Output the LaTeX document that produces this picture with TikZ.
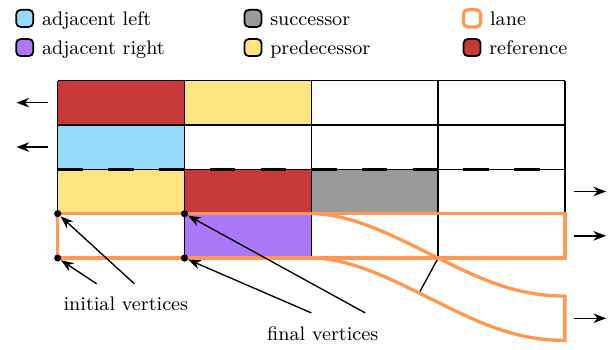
\documentclass[tikz,border=0pt]{standalone}
\usetikzlibrary{positioning,arrows.meta}

\begin{document}
\begin{tikzpicture}[
    font=\fontsize{8.8}{10.5}\selectfont,
    >=Stealth,
    legbox/.style={draw=black, thick, rounded corners=2pt, minimum size=0.27cm, inner sep=0pt},
    legtext/.style={text height=2ex, text depth=.5ex},
    vertex/.style={circle, fill=black, inner sep=0pt, minimum size=3.2pt},
    flow/.style={->, semithick},
    pointer/.style={->, semithick},
    lanecol/.style={draw=lane, line width=1.5pt}
]

% Cell colours
\definecolor{adjleft}{RGB}{150, 218, 252}
\definecolor{adjright}{RGB}{172, 120, 250}
\definecolor{succ}{RGB}{153, 153, 153}
\definecolor{pred}{RGB}{255, 228, 130}
\definecolor{refcell}{RGB}{199, 56, 56}
\definecolor{lane}{RGB}{255, 153, 85}

% Cell dimensions
\def\cellw{2cm}
\def\cellh{0.7cm}

\useasboundingbox (-0.91, -1.45) rectangle (8.79, 4.07);

% Legend
\node[legbox, fill=adjleft] (legleft) at (-0.52, 3.78) {};
\node[legtext, right=0pt of legleft] (txtleft) {adjacent left};
\node[legbox, fill=adjright] (legright) at (-0.52, 3.32) {};
\node[legtext, right=0pt of legright] (txtright) {adjacent right};
\node[legbox, fill=succ] (legsucc) at (3.08, 3.78) {};
\node[legtext, right=0pt of legsucc] (txtsucc) {successor};
\node[legbox, fill=pred] (legpred) at (3.08, 3.32) {};
\node[legtext, right=0pt of legpred] (txtpred) {predecessor};
\node[legbox, draw=lane, line width=1.5pt, fill=white] (leglane) at (6.535, 3.78) {};
\node[legtext, right=0pt of leglane] (txtlane) {lane};
\node[legbox, fill=refcell] (legref) at (6.535, 3.32) {};
\node[legtext, right=0pt of legref] (txtref) {reference};

% Top row
\fill[refcell] (0, 2.1) rectangle +(\cellw, \cellh);
\fill[pred] (2, 2.1) rectangle +(\cellw, \cellh);

% Second row
\fill[adjleft] (0, 1.4) rectangle +(\cellw, \cellh);

% Third row
\fill[pred] (0, 0.7) rectangle +(\cellw, \cellh);
\fill[refcell] (2, 0.7) rectangle +(\cellw, \cellh);
\fill[succ] (4, 0.7) rectangle +(\cellw, \cellh);

% Lane row
\fill[adjright] (2, 0) rectangle +(\cellw, \cellh);

% Grid lines
\foreach \y in {0, 0.7, 1.4, 2.1, 2.8} {
    \draw[semithick] (0, \y) -- (8, \y);
}
\foreach \x in {0, 2, 4, 6, 8} {
    \draw[semithick] (\x, 0) -- (\x, 2.8);
}

% Lane marking
\draw[line width=1.5pt, dash pattern=on 0.4cm off 0.4cm] (0, 1.4) -- (8, 1.4);

% Segment border of the merging lane
\coordinate (mergetop) at (6, 0);
\coordinate (mergebot) at (5.70, -0.553);
\draw[semithick] (mergetop) -- (mergebot);

% Lanes
\draw[lanecol] (0, 0) rectangle (8, 0.7);
\draw[lanecol] (4, 0.7) .. controls (4.65, 0.7) and (5.35, 0.32) .. (6, 0)
    .. controls (6.6, -0.295) and (7.2, -0.6) .. (8, -0.6) -- (8, -1.3)
    .. controls (7.2, -1.3) and (6.6, -0.995) .. (6, -0.7)
    .. controls (5.35, -0.38) and (4.65, 0) .. (4, 0);

% Vertices
\node[vertex] (ini0) at (0, 0) {};
\node[vertex] (ini1) at (0, 0.7) {};
\node[vertex] (fin0) at (2, 0) {};
\node[vertex] (fin1) at (2, 0.7) {};

% Driving directions
\coordinate (outl1) at (-0.15, 2.45);
\coordinate (outl2) at (-0.15, 1.75);
\coordinate (outr1) at (8.15, 1.05);
\coordinate (outr2) at (8.15, 0.35);
\coordinate (outr3) at (8.15, -0.95);
\draw[flow] (outl1) -- +(-0.5, 0);
\draw[flow] (outl2) -- +(-0.5, 0);
\draw[flow] (outr1) -- +(0.5, 0);
\draw[flow] (outr2) -- +(0.5, 0);
\draw[flow] (outr3) -- +(0.5, 0);

% Annotations
\node (initial) at (1.075, -0.72) {initial vertices};
\node (final) at (4.18, -1.2) {final vertices};
\draw[pointer] ([shift={(-0.46, 0.08)}]initial.north) -- (ini0);
\draw[pointer] ([shift={(0.135, 0.08)}]initial.north) -- (ini1);
\draw[pointer] ([shift={(-0.18, 0.1)}]final.north) -- (fin0);
\draw[pointer] ([shift={(0.67, 0.1)}]final.north) -- (fin1);

\end{tikzpicture}
\end{document}
